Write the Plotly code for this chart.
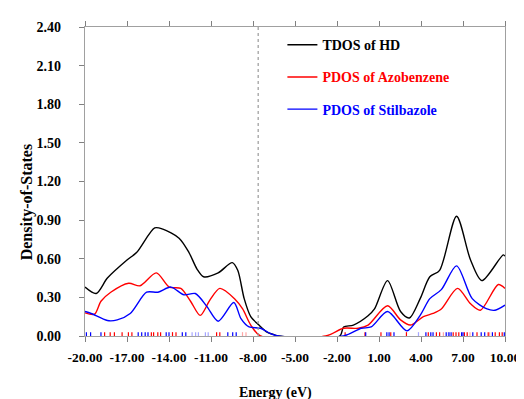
import plotly.graph_objects as go

# TDOS of HD
tdos_x = [-20.0, -19.2, -18.4, -17.0, -16.3, -15.02, -14.44, -13.28, -12.58, -12.0, -11.53, -10.49, -9.48, -9.09, -8.63, -8.16, -7.58, -7.0, -6.5, -6.2,
          -1.8, -1.53, -0.83, 0.22, 0.68, 1.61, 2.54, 3.17, 3.94, 4.63, 5.33, 6.54, 7.54, 8.35, 9.87, 10.0]
tdos_y = [0.38, 0.33, 0.45, 0.59, 0.65, 0.84, 0.83, 0.76, 0.65, 0.52, 0.46, 0.49, 0.57, 0.51, 0.29, 0.15, 0.085, 0.03, 0.01, 0.0,
          0.0, 0.07, 0.085, 0.157, 0.21, 0.43, 0.19, 0.14, 0.29, 0.46, 0.51, 0.93, 0.59, 0.43, 0.63, 0.62]

# PDOS of Azobenzene
azo_x = [-20.0, -19.32, -18.86, -18.16, -16.88, -16.07, -14.91, -13.98, -13.16, -12.46, -11.77, -11.07, -10.37, -9.32, -8.74, -8.16, -7.46,
         -2.81, -1.53, -0.48, 0.22, 1.61, 2.54, 3.24, 4.17, 4.86, 5.45, 6.61, 7.54, 8.24, 9.52, 10.0]
azo_y = [0.18, 0.17, 0.27, 0.34, 0.41, 0.39, 0.49, 0.38, 0.37, 0.27, 0.16, 0.28, 0.37, 0.29, 0.21, 0.085, 0.0,
         0.0, 0.06, 0.06, 0.085, 0.235, 0.125, 0.085, 0.15, 0.175, 0.21, 0.37, 0.25, 0.20, 0.40, 0.37]

# PDOS of Stilbazole
stil_x = [-20.0, -19.56, -18.4, -17.7, -16.77, -15.6, -14.79, -13.86, -12.93, -12.12, -11.3, -10.49, -9.37, -8.86, -8.28, -7.46, -6.77, -6.2,
          -1.53, -0.26, 0.44, 1.61, 3.0, 3.94, 4.63, 5.45, 6.54, 7.66, 8.71, 9.29, 10.0]
stil_y = [0.19, 0.175, 0.12, 0.125, 0.175, 0.34, 0.34, 0.38, 0.32, 0.33, 0.23, 0.115, 0.26, 0.135, 0.07, 0.06, 0.02, 0.0,
          0.0, 0.06, 0.07, 0.19, 0.04, 0.16, 0.29, 0.36, 0.545, 0.29, 0.21, 0.20, 0.24]

# eigenvalue sticks
red_sticks = [-18.6, -18.2, -17.9, -17.35, -16.9, -16.65, -15.26, -15.1, -14.8, -14.6, -13.75, -13.5, -10.6, -10.37,
              -1.42, 0.0, 1.14, 1.84, 2.96, 4.52, 5.1, 5.33, 6.3, 6.5, 6.7, 7.1, 7.3, 8.0, 8.8, 9.3, 9.6, 9.8]
blue_sticks = [-19.9, -19.6, -18.86, -16.2, -15.95, -15.7, -15.5, -14.2, -14.0, -13.05, -12.8, -9.8, -9.45, -9.2,
               0.05, 1.56, 1.72, 2.07, 4.35, 4.7, 4.86, 5.8, 6.0, 6.15, 6.9, 7.0, 7.7, 8.3, 8.55, 9.1, 9.95]
red_light = [-8.75, -8.5, 5.6, 7.5, 8.9]
blue_light = [-12.35, -12.1, -11.9, -11.4, -11.2, 3.82, 5.95]

fermi = -7.63

x_ticks = [-20, -17, -14, -11, -8, -5, -2, 1, 4, 7, 10]
y_ticks = [0.0, 0.3, 0.6, 0.9, 1.2, 1.5, 1.8, 2.1, 2.4]


def sticks(xs):
    sx, sy = [], []
    for v in xs:
        sx += [v, v, None]
        sy += [0.0, 0.03, None]
    return sx, sy


fig = go.Figure()

for xs, col, op in [(red_sticks, "red", 1.0), (blue_sticks, "blue", 1.0),
                    (red_light, "red", 0.35), (blue_light, "blue", 0.35)]:
    sx, sy = sticks(xs)
    fig.add_trace(go.Scatter(x=sx, y=sy, mode="lines", line=dict(color=col, width=1.2),
                             opacity=op, showlegend=False, hoverinfo="skip"))

fig.add_trace(go.Scatter(x=tdos_x, y=tdos_y, mode="lines", legendgroup="a",
                         line=dict(color="black", width=1.4, shape="spline", smoothing=0.8),
                         name='<b><span style="color:black">TDOS of HD</span></b>'))
fig.add_trace(go.Scatter(x=azo_x, y=azo_y, mode="lines", legendgroup="b",
                         line=dict(color="red", width=1.4, shape="spline", smoothing=0.8),
                         name='<b><span style="color:red">PDOS of Azobenzene</span></b>'))
fig.add_trace(go.Scatter(x=stil_x, y=stil_y, mode="lines", legendgroup="c",
                         line=dict(color="blue", width=1.4, shape="spline", smoothing=0.8),
                         name='<b><span style="color:blue">PDOS of Stilbazole</span></b>'))

fig.add_shape(type="line", x0=fermi, x1=fermi, y0=0, y1=2.4, xref="x", yref="y",
              line=dict(color="#9a9a9a", width=1.2, dash="dot"))

font_family = "Liberation Serif"
fig.update_layout(
    width=524, height=399,
    margin=dict(l=77, r=16, t=18, b=71),
    paper_bgcolor="white", plot_bgcolor="white",
    font=dict(family=font_family, size=14, color="black"),
    showlegend=True,
    legend=dict(x=0.47, y=0.993, xanchor="left", yanchor="top", bgcolor="rgba(0,0,0,0)",
                font=dict(family=font_family, size=14), itemwidth=30, tracegroupgap=11),
    xaxis=dict(range=[-20, 10], tickvals=x_ticks, ticktext=[f"{v:.2f}" for v in x_ticks],
               showgrid=False, zeroline=False, showline=True, linecolor="#a0a0a0", linewidth=1.2,
               mirror="ticks", ticks="outside", ticklen=5, tickcolor="#808080", ticklabelstandoff=4,
               tickfont=dict(family=font_family, size=13.5, weight="bold")),
    yaxis=dict(range=[0, 2.4], tickvals=y_ticks, ticktext=[f"{v:.2f}" for v in y_ticks],
               showgrid=False, zeroline=False, showline=True, linecolor="#a0a0a0", linewidth=1.2,
               mirror=True, ticks="outside", ticklen=5, tickcolor="#808080", ticklabelstandoff=15,
               tickfont=dict(family=font_family, size=14, weight="bold")),
    annotations=[
        dict(text="<b>Energy (eV)</b>", x=0.453, y=-0.185, xref="paper", yref="paper",
             xanchor="center", yanchor="middle", showarrow=False, font=dict(family=font_family, size=14)),
        dict(text="<b>Density-of-States</b>", x=-0.139, y=0.4315, xref="paper", yref="paper",
             xanchor="center", yanchor="middle", textangle=-90, showarrow=False, font=dict(family=font_family, size=16)),
    ],
)

fig.write_html("out.html")
